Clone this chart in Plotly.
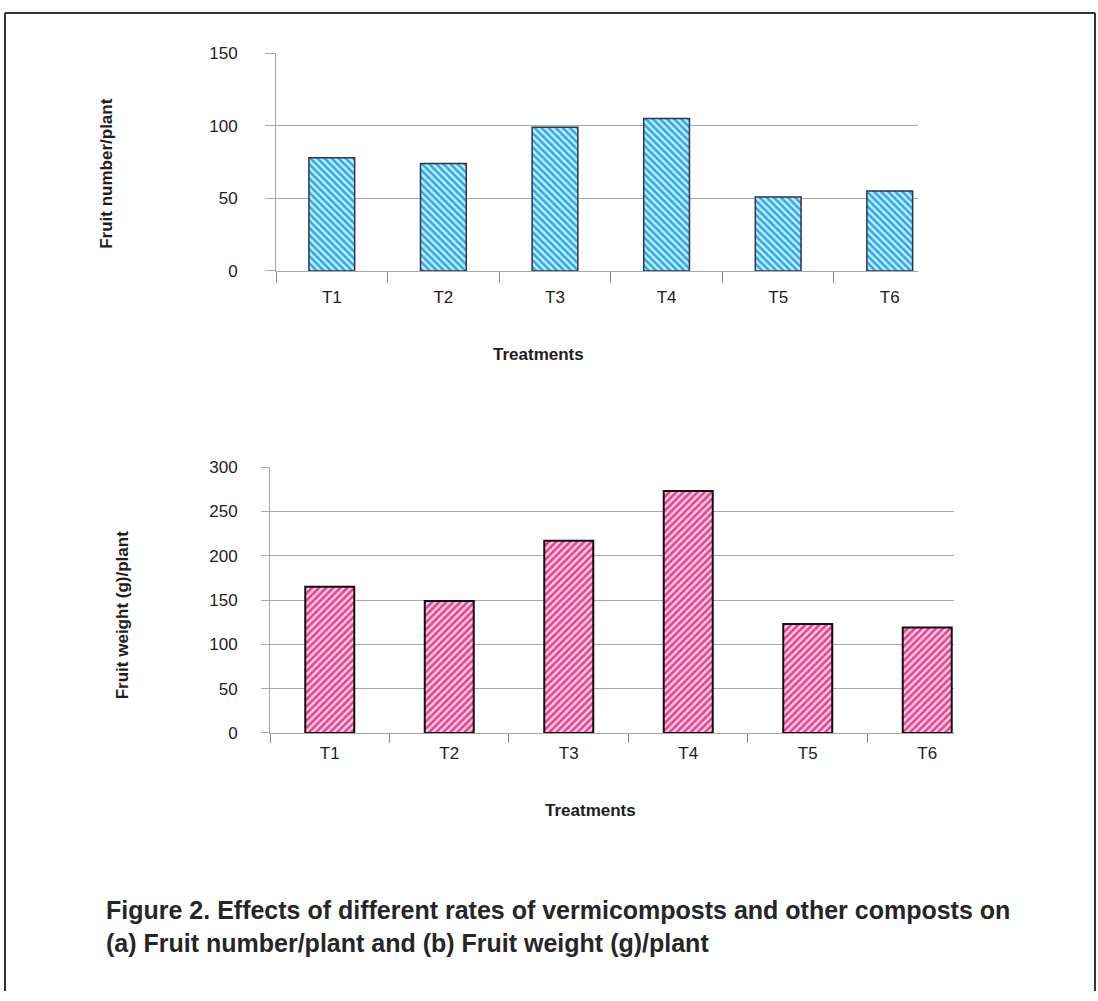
import plotly.graph_objects as go

treatments = ["T1", "T2", "T3", "T4", "T5", "T6"]
fruit_number = [78, 74, 99, 105, 51, 55]
fruit_weight = [165, 149, 217, 273, 123, 119]
top_y_ticks = [0, 50, 100, 150]
bottom_y_ticks = [0, 50, 100, 150, 200, 250, 300]

W, H = 1098, 1001
def px(x): return x / W
def py(y): return 1 - y / H

FONT = "Liberation Sans, Arial, sans-serif"
TXT = "#1e1e1e"

fig = go.Figure()
fig.add_trace(go.Bar(
    x=treatments, y=fruit_number, xaxis="x", yaxis="y", width=0.41,
    marker=dict(color="#36b2ee", line=dict(color="#333344", width=1.5),
                pattern=dict(shape="\\", fillmode="replace", fgcolor="#2aa8ec",
                             bgcolor="#c4ecfc", size=5, solidity=0.5)),
    showlegend=False))
fig.add_trace(go.Bar(
    x=treatments, y=fruit_weight, xaxis="x2", yaxis="y2", width=0.41,
    marker=dict(color="#ee4a9c", line=dict(color="#111111", width=2),
                pattern=dict(shape="/", fillmode="replace", fgcolor="#ea3c92",
                             bgcolor="#fcd0dc", size=5, solidity=0.5)),
    showlegend=False))

grid = "#a8a8a8"
TF = dict(size=17, family=FONT, color=TXT)
fig.update_layout(
    width=W, height=H, autosize=False, margin=dict(l=0, r=0, t=0, b=0),
    paper_bgcolor="white", plot_bgcolor="white",
    font=dict(family=FONT, color=TXT, size=17),
    xaxis=dict(domain=[px(276), px(918)], anchor="y", range=[-0.5, 5.253],
               showgrid=False, showline=True, linecolor=grid, linewidth=1,
               ticks="outside", tickson="boundaries", ticklen=11, tickcolor="#888",
               tickfont=TF, ticklabelstandoff=11),
    yaxis=dict(domain=[py(267), py(45)], anchor="x", range=[0, 150],
               tickvals=top_y_ticks, showgrid=True, gridcolor=grid, gridwidth=1,
               showline=True, linecolor=grid, linewidth=1, zeroline=False,
               ticks="outside", ticklen=10, tickcolor=grid,
               tickfont=TF, ticklabelstandoff=24),
    xaxis2=dict(domain=[px(270), px(954)], anchor="y2", range=[-0.5, 5.224],
                showgrid=False, showline=True, linecolor=grid, linewidth=1,
                ticks="outside", tickson="boundaries", ticklen=9, tickcolor="#888",
                tickfont=TF, ticklabelstandoff=5),
    yaxis2=dict(domain=[py(738), py(467)], anchor="x2", range=[0, 300],
                tickvals=bottom_y_ticks, showgrid=True, gridcolor=grid, gridwidth=1,
                showline=True, linecolor=grid, linewidth=1, zeroline=False,
                ticks="outside", ticklen=8, tickcolor=grid,
                tickfont=TF, ticklabelstandoff=20),
)

ann = [
    dict(text="<b>Fruit number/plant</b>", x=px(107), y=py(168), textangle=-90),
    dict(text="<b>Fruit weight (g)/plant</b>", x=px(122), y=py(618), textangle=-90),
    dict(text="<b>Treatments</b>", x=px(538), y=py(352), textangle=0),
    dict(text="<b>Treatments</b>", x=px(590), y=py(817), textangle=0),
]
for a in ann:
    fig.add_annotation(text=a["text"], x=a["x"], y=a["y"], xref="paper", yref="paper",
                       textangle=a["textangle"], showarrow=False,
                       font=dict(size=17, family=FONT, color=TXT),
                       xanchor="center", yanchor="middle")

fig.add_annotation(
    text="<b>Figure 2. Effects of different rates of vermicomposts and other composts on</b><br>"
         "<b>(a) Fruit number/plant and (b) Fruit weight (g)/plant</b>",
    x=px(104), y=py(935), xref="paper", yref="paper", showarrow=False,
    xanchor="left", yanchor="middle", align="left",
    font=dict(size=25, family=FONT, color="#262626"))

# figure frame
for x0, y0, x1, y1 in [(5, 4, 1095, 4), (5, 4, 5, 1001), (1095, 4, 1095, 1001)]:
    fig.add_shape(type="line", xref="paper", yref="paper",
                  x0=px(x0), y0=py(y0), x1=px(x1), y1=py(y1),
                  line=dict(color="#333333", width=2))

fig.write_html("out.html", config={"responsive": False, "displayModeBar": False},
               post_script="document.body.style.margin='0';document.body.style.overflow='hidden';")
